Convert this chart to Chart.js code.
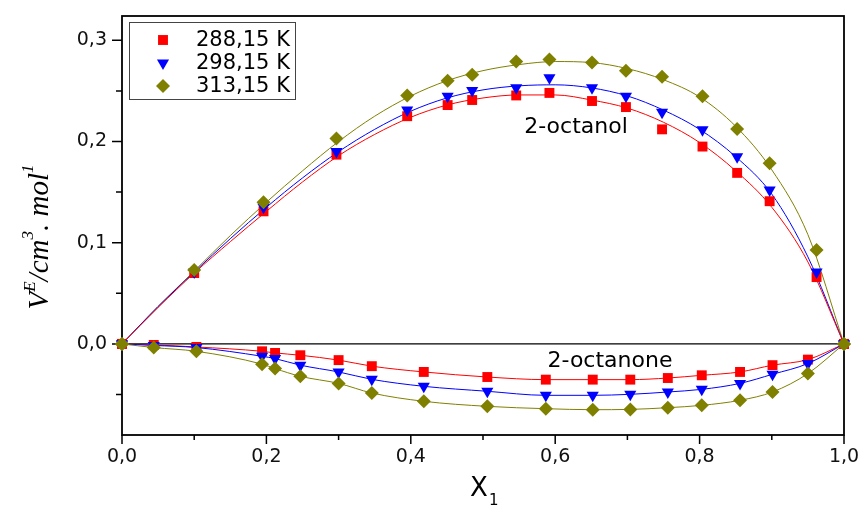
<!DOCTYPE html>
<html lang="en">
<head>
  <meta charset="UTF-8" />
  <title>Excess molar volumes</title>
  <script src="https://cdn.jsdelivr.net/npm/chart.js"></script>
  <style>
    html, body { margin: 0; padding: 0; background: #fff; }
    #wrap { width: 864px; height: 509px; }
  </style>
</head>
<body>
<div id="wrap"><canvas id="chart" width="864" height="509"></canvas></div>

<script>
  // series names and colours
  const seriesLabels = ["288,15 K", "298,15 K", "313,15 K"];
  const seriesColors = ["#ff0000", "#0000ff", "#808000"];

  // 2-octanol, measured points
  const olX = [0, 0.100, 0.196, 0.297, 0.395, 0.451, 0.485, 0.546, 0.592, 0.651, 0.698, 0.748, 0.804, 0.852, 0.897, 0.962, 1.0];
  const olT288 = [0, 0.070, 0.131, 0.187, 0.225, 0.236, 0.241, 0.2455, 0.248, 0.240, 0.234, 0.212, 0.195, 0.169, 0.141, 0.066, 0];
  const olT298 = [0, 0.071, 0.135, 0.190, 0.231, 0.2446, 0.2505, 0.253, 0.263, 0.253, 0.2446, 0.229, 0.2116, 0.185, 0.152, 0.071, 0];
  const olT313 = [0, 0.073, 0.140, 0.203, 0.2455, 0.260, 0.266, 0.279, 0.281, 0.278, 0.270, 0.264, 0.2446, 0.2123, 0.1786, 0.0928, 0];

  // 2-octanol, fitted curves
  const fitX = [0, 0.05, 0.1, 0.15, 0.2, 0.25, 0.3, 0.35, 0.4, 0.45, 0.5, 0.55, 0.6, 0.65, 0.7, 0.75, 0.8, 0.85, 0.9, 0.95, 1.0];
  const fitT288 = [0, 0.036, 0.070, 0.101, 0.131, 0.160, 0.186, 0.207, 0.224, 0.236, 0.243, 0.246, 0.246, 0.241, 0.233, 0.219, 0.199, 0.171, 0.135, 0.081, 0];
  const fitT298 = [0, 0.037, 0.071, 0.104, 0.135, 0.164, 0.190, 0.212, 0.230, 0.243, 0.251, 0.255, 0.256, 0.253, 0.245, 0.231, 0.212, 0.185, 0.148, 0.086, 0];
  const fitT313 = [0, 0.037, 0.072, 0.107, 0.140, 0.171, 0.200, 0.225, 0.245, 0.260, 0.270, 0.276, 0.279, 0.278, 0.272, 0.261, 0.244, 0.215, 0.172, 0.108, 0];

  // 2-octanone, measured points
  const onX = [0, 0.044, 0.103, 0.194, 0.212, 0.247, 0.300, 0.346, 0.418, 0.506, 0.587, 0.652, 0.704, 0.756, 0.803, 0.856, 0.901, 0.950, 1.0];
  const onT288 = [0, -0.001, -0.003, -0.0073, -0.0089, -0.0112, -0.016, -0.022, -0.0277, -0.0327, -0.0353, -0.0353, -0.0353, -0.0337, -0.031, -0.0277, -0.021, -0.0155, 0];
  const onT298 = [0, -0.0015, -0.0036, -0.0122, -0.0145, -0.021, -0.0277, -0.035, -0.0419, -0.0468, -0.0508, -0.0508, -0.0498, -0.0475, -0.0449, -0.039, -0.030, -0.0194, 0];
  const onT313 = [0, -0.0036, -0.0073, -0.020, -0.0244, -0.032, -0.039, -0.0485, -0.0567, -0.0617, -0.064, -0.065, -0.0647, -0.063, -0.0607, -0.0557, -0.0475, -0.0293, 0];

  // axis ticks
  const xTickVals = [0, 0.2, 0.4, 0.6, 0.8, 1.0];
  const xMinorVals = [0.1, 0.3, 0.5, 0.7, 0.9];
  const yTickVals = [0, 0.1, 0.2, 0.3];
  const yMinorVals = [-0.05, 0.05, 0.15, 0.25];

  const markerStyles = ["rect", "triangle", "rectRot"];
  const markerRot = [0, 180, 0];

  const pts = (xs, ys) => xs.map((x, i) => ({ x: x, y: ys[i] }));
  const fmt = v => v.toFixed(1).replace(".", ",");

  const datasets = [];
  const olSets = [olT288, olT298, olT313];
  const fitSets = [fitT288, fitT298, fitT313];
  const onSets = [onT288, onT298, onT313];

  for (let i = 0; i < 3; i++) {
    datasets.push({
      label: seriesLabels[i] + " fit",
      data: pts(fitX, fitSets[i]),
      showLine: true,
      borderColor: seriesColors[i],
      borderWidth: 1,
      pointRadius: 0,
      cubicInterpolationMode: "monotone",
      clip: false,
      order: 10
    });
    datasets.push({
      label: seriesLabels[i] + " octanone",
      data: pts(onX, onSets[i]),
      showLine: true,
      borderColor: seriesColors[i],
      backgroundColor: seriesColors[i],
      borderWidth: 1,
      pointStyle: markerStyles[i],
      rotation: markerRot[i],
      pointRadius: 7,
      pointBorderWidth: 0,
      cubicInterpolationMode: "monotone",
      clip: false,
      order: 3 - i
    });
    datasets.push({
      label: seriesLabels[i],
      data: pts(olX, olSets[i]),
      showLine: false,
      backgroundColor: seriesColors[i],
      borderColor: seriesColors[i],
      pointStyle: markerStyles[i],
      rotation: markerRot[i],
      pointRadius: 7,
      pointBorderWidth: 0,
      clip: false,
      order: 3 - i
    });
  }

  function drawMarker(ctx, style, x, y, r, color) {
    ctx.fillStyle = color;
    ctx.beginPath();
    if (style === "rect") {
      const s = Math.SQRT1_2 * r;
      ctx.rect(x - s, y - s, 2 * s, 2 * s);
    } else if (style === "triangle") {
      ctx.moveTo(x, y + r);
      ctx.lineTo(x - r * 0.866, y - r * 0.5);
      ctx.lineTo(x + r * 0.866, y - r * 0.5);
      ctx.closePath();
    } else {
      ctx.moveTo(x, y - r);
      ctx.lineTo(x + r, y);
      ctx.lineTo(x, y + r);
      ctx.lineTo(x - r, y);
      ctx.closePath();
    }
    ctx.fill();
  }

  // no extra room for edge labels: the plot box is fixed by layout.padding
  function noEdgePadding(s) {
    s.paddingTop = 0;
    s.paddingBottom = 0;
    s.paddingLeft = 0;
    s.paddingRight = 0;
  }

  const decor = {
    id: "decor",
    beforeDatasetsDraw(chart) {
      const { ctx, chartArea: a, scales: { x, y } } = chart;
      ctx.save();
      ctx.strokeStyle = "#000";
      ctx.lineWidth = 1.2;
      // zero line
      const y0 = y.getPixelForValue(0);
      ctx.beginPath();
      ctx.moveTo(a.left, y0);
      ctx.lineTo(a.right, y0);
      ctx.stroke();
      // ticks
      ctx.lineWidth = 1.5;
      ctx.beginPath();
      xTickVals.forEach(v => { const p = x.getPixelForValue(v); ctx.moveTo(p, a.bottom); ctx.lineTo(p, a.bottom + 9); });
      xMinorVals.forEach(v => { const p = x.getPixelForValue(v); ctx.moveTo(p, a.bottom); ctx.lineTo(p, a.bottom + 5); });
      yTickVals.forEach(v => { const p = y.getPixelForValue(v); ctx.moveTo(a.left, p); ctx.lineTo(a.left - 10, p); });
      yMinorVals.forEach(v => { const p = y.getPixelForValue(v); ctx.moveTo(a.left, p); ctx.lineTo(a.left - 6, p); });
      ctx.stroke();
      // frame
      ctx.lineWidth = 1.8;
      ctx.strokeRect(a.left, a.top, a.right - a.left, a.bottom - a.top);
      ctx.restore();
    },
    afterDraw(chart) {
      const { ctx } = chart;
      ctx.save();
      // legend
      ctx.strokeStyle = "#444";
      ctx.lineWidth = 1;
      ctx.strokeRect(129.5, 22.5, 166, 77);
      const rowY = [40, 63, 86];
      ctx.font = '21px "DejaVu Sans"';
      ctx.textBaseline = "middle";
      ctx.textAlign = "left";
      for (let i = 0; i < 3; i++) {
        drawMarker(ctx, markerStyles[i], 163, rowY[i], 7, seriesColors[i]);
        ctx.fillStyle = "#000";
        ctx.fillText(seriesLabels[i], 196, rowY[i] + 1);
      }
      // curve labels
      ctx.font = '22px "DejaVu Sans"';
      ctx.textAlign = "center";
      ctx.fillText("2-octanol", 576, 127);
      ctx.fillText("2-octanone", 610, 361);
      // x title
      ctx.textBaseline = "alphabetic";
      ctx.font = '26px "DejaVu Sans"';
      ctx.fillText("X", 479, 496);
      ctx.font = '15px "DejaVu Sans"';
      ctx.textAlign = "left";
      ctx.fillText("1", 489, 505);
      // y title, rotated
      const parts = [
        { t: "V", s: 29, dy: 0 },
        { t: "E", s: 17, dy: -13 },
        { t: "/cm", s: 29, dy: 0 },
        { t: "3", s: 17, dy: -15 },
        { t: ". mol", s: 29, dy: 0 },
        { t: "1", s: 17, dy: -15 }
      ];
      let total = 0;
      parts.forEach(p => {
        ctx.font = 'italic ' + p.s + 'px "Liberation Serif"';
        p.w = ctx.measureText(p.t).width;
        total += p.w;
      });
      ctx.translate(48, 237);
      ctx.rotate(-Math.PI / 2);
      let cx = -total / 2;
      parts.forEach(p => {
        ctx.font = 'italic ' + p.s + 'px "Liberation Serif"';
        ctx.fillText(p.t, cx, p.dy);
        cx += p.w;
      });
      ctx.restore();
    }
  };

  const tickFont = { family: "DejaVu Sans", size: 19 };

  const chart = new Chart(document.getElementById("chart"), {
    type: "scatter",
    data: { datasets: datasets },
    options: {
      responsive: false,
      animation: false,
      layout: { autoPadding: false, padding: { top: 16, right: 20, left: 0, bottom: 0 } },
      plugins: { legend: { display: false }, tooltip: { enabled: false } },
      scales: {
        x: {
          type: "linear",
          min: 0,
          max: 1,
          afterBuildTicks: s => { s.ticks = xTickVals.map(v => ({ value: v })); },
          afterFit: s => { s.height = 74; noEdgePadding(s); },
          grid: { display: false, drawTicks: false },
          border: { display: false },
          ticks: { padding: 11, color: "#111", font: tickFont, callback: v => fmt(v), maxRotation: 0 }
        },
        y: {
          type: "linear",
          min: -0.09,
          max: 0.324,
          afterBuildTicks: s => { s.ticks = yTickVals.map(v => ({ value: v })); },
          afterFit: s => { s.width = 122; noEdgePadding(s); },
          grid: { display: false, drawTicks: false },
          border: { display: false },
          ticks: { padding: 15, color: "#111", font: tickFont, callback: v => fmt(v) }
        }
      }
    },
    plugins: [decor]
  });
</script>
</body>
</html>
